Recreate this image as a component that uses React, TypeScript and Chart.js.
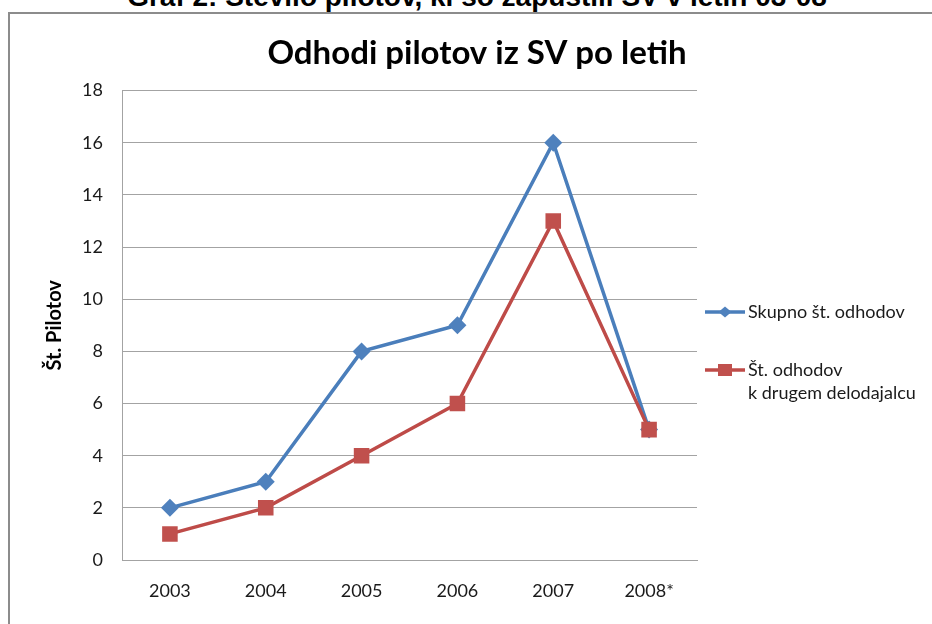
import React, { useEffect, useRef } from "react";
import { Chart, registerables } from "chart.js";

Chart.register(...registerables);

const pageHeading = "Graf 2: Število pilotov, ki so zapustili SV v letih 03-08";
const chartTitle = "Odhodi pilotov iz SV po letih";
const yAxisTitle = "Št. Pilotov";
const categories = ["2003", "2004", "2005", "2006", "2007", "2008*"];
const totalDepartures = [2, 3, 8, 9, 16, 5];
const toOtherEmployer = [1, 2, 4, 6, 13, 5];
const legendTotal = ["Skupno št. odhodov"];
const legendOther = ["Št. odhodov", "k drugem delodajalcu"];
const yMin = 0;
const yMax = 18;
const yStep = 2;

const BLUE_LINE = "#4A7EBB";
const BLUE_FILL = "#4F81BD";
const RED_LINE = "#BE4B48";
const RED_FILL = "#C0504D";
const GRID = "#a3a3a3";
const FONT = "Lato, 'Open Sans', sans-serif";

const legendPlugin = {
  id: "customLegend",
  afterDraw(chart: any) {
    const ctx = chart.ctx;
    const area = chart.chartArea;
    const x0 = area.right + 8;
    const x1 = x0 + 40;
    const rows = [
      { y: 312, lines: legendTotal, color: BLUE_LINE, fill: BLUE_FILL, shape: "diamond" },
      { y: 370, lines: legendOther, color: RED_LINE, fill: RED_FILL, shape: "square" },
    ];
    ctx.save();
    rows.forEach((r) => {
      ctx.strokeStyle = r.color;
      ctx.lineWidth = 3.5;
      ctx.beginPath();
      ctx.moveTo(x0, r.y);
      ctx.lineTo(x1, r.y);
      ctx.stroke();
      const cx = (x0 + x1) / 2;
      ctx.fillStyle = r.fill;
      ctx.beginPath();
      if (r.shape === "diamond") {
        ctx.moveTo(cx, r.y - 5.5);
        ctx.lineTo(cx + 6.5, r.y);
        ctx.lineTo(cx, r.y + 5.5);
        ctx.lineTo(cx - 6.5, r.y);
        ctx.closePath();
      } else {
        ctx.rect(cx - 7, r.y - 6, 14, 12);
      }
      ctx.fill();
      ctx.fillStyle = "#1a1a1a";
      ctx.font = `18px ${FONT}`;
      ctx.textAlign = "left";
      ctx.textBaseline = "middle";
      r.lines.forEach((t, i) => {
        ctx.fillText(t, x1 + 3, r.y + i * 23);
      });
    });
    ctx.restore();
  },
};

export default function App() {
  const ref = useRef<HTMLCanvasElement | null>(null);

  useEffect(() => {
    if (!ref.current) return;
    const chart = new Chart(ref.current, {
      type: "line",
      data: {
        labels: categories,
        datasets: [
          {
            label: legendTotal.join(" "),
            data: totalDepartures,
            order: 2,
            borderColor: BLUE_LINE,
            backgroundColor: BLUE_FILL,
            borderWidth: 3.5,
            pointStyle: "rectRot",
            pointRadius: 9,
            pointBorderWidth: 0,
            pointBackgroundColor: BLUE_FILL,
            tension: 0,
          },
          {
            label: legendOther.join(" "),
            data: toOtherEmployer,
            order: 1,
            borderColor: RED_LINE,
            backgroundColor: RED_FILL,
            borderWidth: 3.5,
            pointStyle: "rect",
            pointRadius: 11,
            pointBorderWidth: 0,
            pointBackgroundColor: RED_FILL,
            tension: 0,
          },
        ],
      },
      options: {
        responsive: false,
        animation: false,
        devicePixelRatio: 1,
        layout: { padding: { left: 22, top: 14, right: 0, bottom: 0 } },
        plugins: {
          legend: { display: false },
          tooltip: { enabled: false },
          title: {
            display: true,
            text: chartTitle,
            color: "#000",
            font: { family: FONT, size: 33, weight: "bold" },
            padding: { top: 20, bottom: 17 },
          },
        },
        scales: {
          x: {
            type: "category",
            offset: true,
            grid: { display: false, drawTicks: false },
            border: { display: true, color: GRID, width: 1 },
            ticks: { color: "#1a1a1a", font: { family: FONT, size: 18 }, padding: 20 },
            afterFit: (s: any) => {
              s.height = 64;
            },
          },
          y: {
            type: "linear",
            position: "left",
            min: yMin,
            max: yMax,
            ticks: { stepSize: yStep, color: "#1a1a1a", font: { family: FONT, size: 18 }, padding: 19 },
            grid: { color: GRID, lineWidth: 1, drawTicks: false },
            border: { display: true, color: GRID, width: 1 },
            title: {
              display: true,
              text: yAxisTitle,
              color: "#000",
              font: { family: FONT, size: 20, weight: "bold" },
              padding: { top: 21, bottom: 0 },
            },
            afterFit: (s: any) => {
              s.width = 100;
            },
          },
          yRight: {
            type: "linear",
            position: "right",
            display: true,
            ticks: { display: false },
            grid: { display: false, drawTicks: false },
            border: { display: false },
            afterFit: (s: any) => {
              s.width = 235;
            },
          },
        },
      },
      plugins: [legendPlugin],
    } as any);
    return () => chart.destroy();
  }, []);

  return (
    <div style={{ position: "absolute", left: 0, top: 0, width: 932, height: 624, overflow: "hidden", background: "#fff" }}>
      <div
        style={{
          position: "absolute",
          left: 22,
          width: 910,
          top: -17,
          textAlign: "center",
          fontFamily: "'Liberation Sans', Arial, sans-serif",
          fontWeight: "bold",
          fontSize: 28,
          lineHeight: "28px",
          whiteSpace: "nowrap",
          color: "#000",
        }}
      >
        {pageHeading}
      </div>
      <div
        style={{
          position: "absolute",
          left: 8,
          top: 12,
          width: 1000,
          height: 1000,
          borderTop: "2px solid #8c8c8c",
          borderLeft: "2px solid #8c8c8c",
          boxSizing: "border-box",
        }}
      />
      <canvas ref={ref} width={932} height={624} style={{ position: "absolute", left: 0, top: 0, width: 932, height: 624 }} />
    </div>
  );
}
